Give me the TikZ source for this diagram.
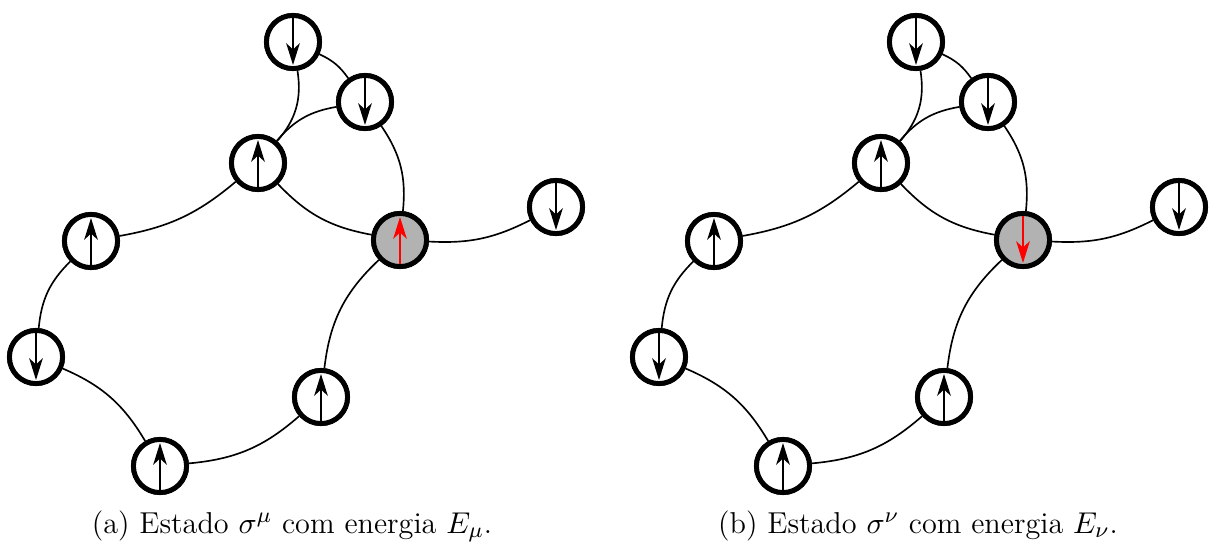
\documentclass[tikz,border=0pt]{standalone}
\usepackage{amsmath}
\usepackage{amssymb}
\usepackage{xcolor}
\usepackage{tikz}
\usetikzlibrary{arrows.meta,positioning,calc}
\tikzstyle{site} = [circle, draw, line width=1.8pt, fill=white, minimum size=0.68cm, inner sep=0pt]
\tikzstyle{flip} = [site, fill=black!30]
\tikzstyle{bond} = [semithick]
\tikzstyle{arrow} = [line width=0.5pt, -{Stealth[length=8pt,width=5pt,inset=2.4pt]}, shorten <=1.8pt, shorten >=2.2pt]

\begin{document}
\begin{tikzpicture}[x=0.0128cm, y=-0.0128cm]
    \useasboundingbox (0,0) rectangle (1213,544);
    \foreach \p/\dx/\cx/\s/\from/\to in {a/0/292/\mu/south/north, b/623/918/\nu/north/south} {
        \begin{scope}[shift={(\dx,0)}]
            % lattice sites
            \node[site] (\p A) at (293,42) {};
            \node[site] (\p B) at (365,102) {};
            \node[site] (\p C) at (258,163) {};
            \node[flip] (\p D) at (400,240) {};
            \node[site] (\p E) at (556,207) {};
            \node[site] (\p F) at (91,241) {};
            \node[site] (\p G) at (36,357) {};
            \node[site] (\p H) at (321,397) {};
            \node[site] (\p I) at (160,466) {};
        \end{scope}
        % bonds
        \draw[bond] (\p A) to[bend left=15] (\p B);
        \draw[bond] (\p A) to[bend left=25] (\p C);
        \draw[bond] (\p B) to[bend right=20] (\p C);
        \draw[bond] (\p B) to[bend left=20] (\p D);
        \draw[bond] (\p C) to[bend right=18] (\p D);
        \draw[bond] (\p C) to[bend left=15] (\p F);
        \draw[bond] (\p F) to[bend right=20] (\p G);
        \draw[bond] (\p G) to[bend left=18] (\p I);
        \draw[bond] (\p I) to[bend right=18] (\p H);
        \draw[bond] (\p H) to[bend left=20] (\p D);
        \draw[bond] (\p D) to[bend right=15] (\p E);
        % redraw sites over the bonds
        \foreach \n in {A,B,C,E,F,G,H,I}
            \node[site] at (\p\n) {};
        \node[flip] at (\p D) {};
        % spins
        \foreach \n in {C,F,H,I}
            \draw[arrow] (\p\n.south) -- (\p\n.north);
        \foreach \n in {A,B,E,G}
            \draw[arrow] (\p\n.north) -- (\p\n.south);
        \draw[arrow, red] (\p D.\from) -- (\p D.\to);
        \node[anchor=base, font=\fontsize{11}{13.6}\selectfont] (\p cap) at (\cx,533) {(\p) Estado $\sigma^{\s}$ com energia $E_{\s}$.};
    }
\end{tikzpicture}
\end{document}
